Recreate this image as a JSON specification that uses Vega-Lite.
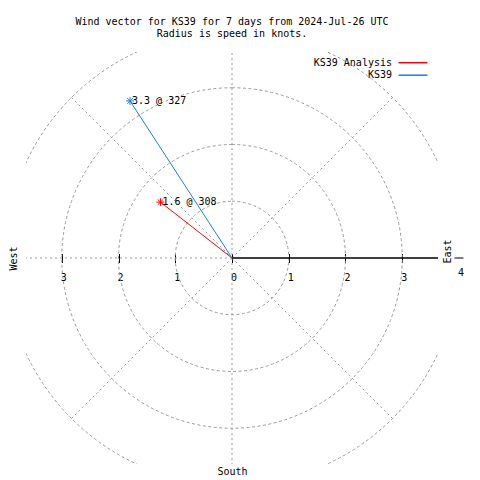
{
  "$schema": "https://vega.github.io/schema/vega-lite/v6.json",
  "width": 412,
  "height": 412,
  "autosize": {"type": "none"},
  "padding": {"left": 26, "top": 52, "right": 42, "bottom": 16},
  "background": "white",
  "title": {
    "text": ["Wind vector for KS39 for 7 days from 2024-Jul-26 UTC", "Radius is speed in knots."],
    "font": "DejaVu Sans Mono",
    "fontSize": 10,
    "fontWeight": "normal",
    "color": "black",
    "anchor": "middle",
    "frame": "group",
    "offset": 12.5,
    "lineHeight": 12.6
  },
  "config": {
    "view": {"stroke": null},
    "font": "DejaVu Sans Mono"
  },
  "layer": [
    {
      "data": {"values": [{"r": 1}, {"r": 2}, {"r": 3}, {"r": 4}]},
      "mark": {"type": "arc", "filled": false, "fill": null, "stroke": "#9a9a9a", "strokeWidth": 1, "strokeDash": [3, 2.5], "theta": 0, "theta2": 6.2832, "clip": true},
      "encoding": {
        "radius": {"field": "r", "type": "quantitative", "stack": null, "scale": {"type": "linear", "domain": [0, 3.63], "range": [0, 206], "zero": true}}
      }
    },
    {
      "resolve": {"axis": {"x": "independent", "y": "independent"}},
      "layer": [
        {
          "data": {"values": [
            {"x": -4, "y": 0, "x2": 0, "y2": 0},
            {"x": 0, "y": -4, "x2": 0, "y2": 4},
            {"x": 0, "y": 0, "x2": 2.83, "y2": 2.83},
            {"x": 0, "y": 0, "x2": -2.83, "y2": 2.83},
            {"x": 0, "y": 0, "x2": -2.83, "y2": -2.83},
            {"x": 0, "y": 0, "x2": 2.83, "y2": -2.83}
          ]},
          "mark": {"type": "rule", "stroke": "#9a9a9a", "strokeWidth": 1, "strokeDash": [2, 3], "clip": true},
          "encoding": {
            "x": {"field": "x", "type": "quantitative", "scale": {"domain": [-3.63, 3.63], "nice": false, "zero": false},
              "axis": {"orient": "bottom", "offset": -210.5, "values": [-3, -2, -1, 0, 1, 2, 3], "domain": false, "grid": false, "ticks": true, "tickSize": 9, "tickColor": "black", "tickWidth": 1, "labelExpr": "'' + abs(datum.value)", "labelFont": "DejaVu Sans Mono", "labelFontSize": 10, "labelColor": "black", "labelPadding": 9.5, "labelOffset": 1.5, "labelFlush": false, "labelOverlap": false, "labelBaseline": "top", "title": "South", "titleFont": "DejaVu Sans Mono", "titleFontSize": 10, "titleFontWeight": "normal", "titleColor": "black", "titleY": 213, "titleBaseline": "top"}},
            "y": {"field": "y", "type": "quantitative", "scale": {"domain": [-3.63, 3.63], "nice": false, "zero": false},
              "axis": {"orient": "left", "domain": false, "ticks": false, "labels": false, "grid": false, "title": "West", "titleAngle": 270, "titlePadding": 8, "titleFont": "DejaVu Sans Mono", "titleFontSize": 10, "titleFontWeight": "normal", "titleColor": "black"}},
            "x2": {"field": "x2"},
            "y2": {"field": "y2"}
          }
        },
        {
          "data": {"values": [{"x": 0, "y": 0, "x2": 4, "y2": 0}]},
          "mark": {"type": "rule", "stroke": "black", "strokeWidth": 1.5, "clip": true},
          "encoding": {
            "x": {"field": "x", "type": "quantitative", "scale": {"domain": [-3.63, 3.63], "nice": false, "zero": false}, "axis": null},
            "y": {"field": "y", "type": "quantitative", "scale": {"domain": [-3.63, 3.63], "nice": false, "zero": false},
              "axis": {"orient": "right", "domain": false, "ticks": false, "labels": false, "grid": false, "title": "East", "titleAngle": 270, "titleBaseline": "top", "titlePadding": 4, "titleY": 199, "titleFont": "DejaVu Sans Mono", "titleFontSize": 10, "titleFontWeight": "normal", "titleColor": "black"}},
            "x2": {"field": "x2"},
            "y2": {"field": "y2"}
          }
        },
        {
          "data": {"values": [{"r": 4, "y": 0, "label": "4"}]},
          "layer": [
            {
              "mark": {"type": "tick", "orient": "horizontal", "size": 9, "thickness": 1, "color": "black", "opacity": 1},
              "encoding": {
                "x": {"field": "r", "type": "quantitative", "scale": {"domain": [-3.63, 3.63], "nice": false, "zero": false}, "axis": null},
                "y": {"field": "y", "type": "quantitative", "scale": {"domain": [-3.63, 3.63], "nice": false, "zero": false}, "axis": null}
              }
            },
            {
              "mark": {"type": "text", "align": "center", "baseline": "middle", "dx": 2, "dy": 15, "font": "DejaVu Sans Mono", "fontSize": 10, "color": "black"},
              "encoding": {
                "x": {"field": "r", "type": "quantitative", "scale": {"domain": [-3.63, 3.63], "nice": false, "zero": false}, "axis": null},
                "y": {"field": "y", "type": "quantitative", "scale": {"domain": [-3.63, 3.63], "nice": false, "zero": false}, "axis": null},
                "text": {"field": "label"}
              }
            }
          ]
        },
        {
          "data": {"values": [
            {"series": "KS39 Analysis", "speed": 1.6, "dir": 308, "x": -1.261, "y": 0.985, "label": "1.6 @ 308"},
            {"series": "KS39", "speed": 3.3, "dir": 327, "x": -1.797, "y": 2.768, "label": "3.3 @ 327"}
          ]},
          "layer": [
            {
              "mark": {"type": "rule", "strokeWidth": 1},
              "encoding": {
                "x": {"field": "x", "type": "quantitative", "scale": {"domain": [-3.63, 3.63], "nice": false, "zero": false}, "axis": null},
                "y": {"field": "y", "type": "quantitative", "scale": {"domain": [-3.63, 3.63], "nice": false, "zero": false}, "axis": null},
                "x2": {"datum": 0},
                "y2": {"datum": 0},
                "color": {"field": "series", "type": "nominal", "scale": {"domain": ["KS39 Analysis", "KS39"], "range": ["#ff0000", "#1a80e6"]},
                  "legend": {"orient": "none", "legendX": 381, "legendY": 4.7, "padding": 0, "symbolType": "M-3,0L3,0", "symbolSize": 93, "symbolStrokeWidth": 1.5, "symbolFillColor": "transparent", "rowPadding": 1.5, "labelAlign": "right", "labelOffset": -27, "labelFont": "DejaVu Sans Mono", "labelFontSize": 10, "labelColor": "black", "title": null}}
              }
            },
            {
              "mark": {"type": "point", "shape": "M-1,0L1,0M0,-1L0,1M-0.7,-0.7L0.7,0.7M-0.7,0.7L0.7,-0.7", "filled": false, "size": 64, "strokeWidth": 1, "opacity": 1},
              "encoding": {
                "x": {"field": "x", "type": "quantitative", "scale": {"domain": [-3.63, 3.63], "nice": false, "zero": false}, "axis": null},
                "y": {"field": "y", "type": "quantitative", "scale": {"domain": [-3.63, 3.63], "nice": false, "zero": false}, "axis": null},
                "color": {"field": "series", "type": "nominal", "scale": {"domain": ["KS39 Analysis", "KS39"], "range": ["#ff0000", "#1a80e6"]},
                  "legend": {"orient": "none", "legendX": 381, "legendY": 4.7, "padding": 0, "symbolType": "M-3,0L3,0", "symbolSize": 93, "symbolStrokeWidth": 1.5, "symbolFillColor": "transparent", "rowPadding": 1.5, "labelAlign": "right", "labelOffset": -27, "labelFont": "DejaVu Sans Mono", "labelFontSize": 10, "labelColor": "black", "title": null}}
              }
            },
            {
              "mark": {"type": "text", "align": "left", "baseline": "middle", "dx": 2, "font": "DejaVu Sans Mono", "fontSize": 10, "color": "black"},
              "encoding": {
                "x": {"field": "x", "type": "quantitative", "scale": {"domain": [-3.63, 3.63], "nice": false, "zero": false}, "axis": null},
                "y": {"field": "y", "type": "quantitative", "scale": {"domain": [-3.63, 3.63], "nice": false, "zero": false}, "axis": null},
                "text": {"field": "label"}
              }
            }
          ]
        }
      ]
    }
  ]
}
